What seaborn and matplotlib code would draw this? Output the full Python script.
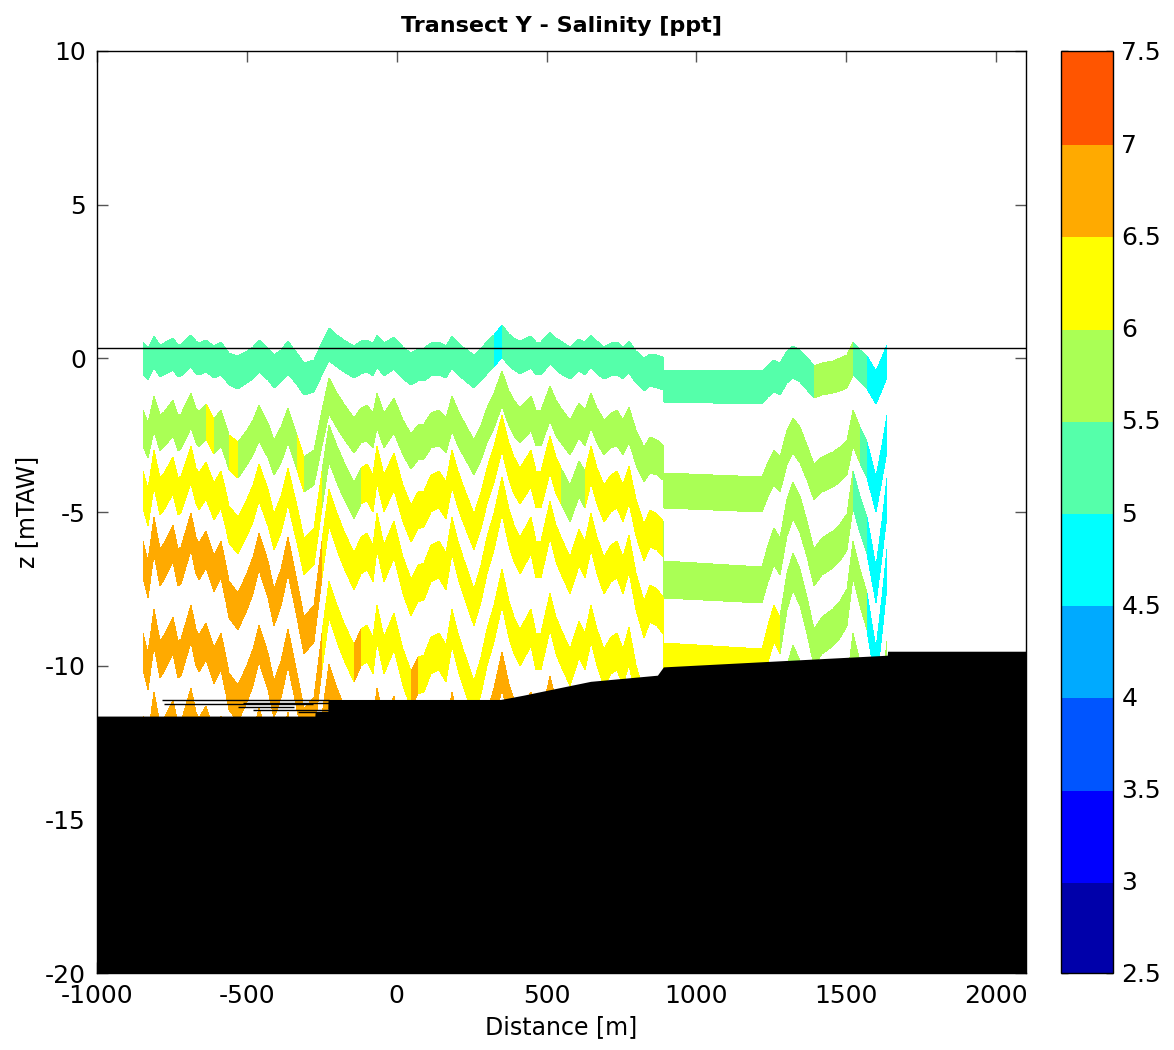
import numpy as np
import matplotlib
matplotlib.use("Agg")
import matplotlib.pyplot as plt
from matplotlib.colors import ListedColormap, BoundaryNorm
import seaborn as sns

# ---------------------------------------------------------------------------
# Data
# ---------------------------------------------------------------------------
# Along-track distance of the profile nodes [m]
dist = np.array([
    -845, -830, -809, -790, -776, -748, -730, -720, -687, -670, -659, -636,
    -609, -587, -570, -559, -531, -498, -480, -459, -431, -409, -385, -364,
    -345, -331, -309, -276, -250, -226, -200, -176, -142, -120, -100, -80,
    -64, -42, -9, 20, 47, 70, 91, 115, 140, 165, 186, 205, 220, 258, 280,
    300, 325, 352, 375, 390, 413, 447, 465, 480, 513, 530, 547, 580, 610,
    630, 647, 670, 691, 715, 736, 755, 774, 800, 824, 845, 869, 890,
    891, 1219,
    1240, 1258, 1280, 1302, 1324, 1346, 1370, 1391, 1420, 1457, 1480, 1502,
    1524, 1545, 1569, 1601, 1620, 1637])

# Vertical excursion of the layer pattern at each node (dimensionless)
heave = np.array([
    0.2, -0.3, 0.8, 0.0, 0.15, 0.6, 0.0, 0.05, 0.9, 0.3, 0.15, 0.45,
    -0.15, 0.2, -0.4, -0.8, -1.1, -0.6, -0.2, 0.4, -0.3, -1.0, -0.5, 0.3,
    -0.3, -0.8, -1.7, -1.4, 0.2, 1.5, 0.9, 0.45, -0.1, 0.3, 0.4, 0.1,
    0.9, 0.1, 0.7, -0.2, -0.75, -0.4, -0.35, 0.1, 0.2, -0.1, 0.8, 0.2, -0.2, -1.0, -0.4,
    0.3, 0.9, 1.8, 1.0, 0.6, 0.3, 0.8, 0.2, 0.2, 1.2, 0.6, 0.3, -0.2, 0.5,
    0.2, 0.9, 0.3, -0.2, 0.1, 0.2, -0.2, 0.35, -0.6, -1.3, -0.9, -1.0, -1.2,
    -2.35, -2.5,
    -1.9, -1.4, -1.7, -0.6, -0.1, -0.5, -1.2, -2.0, -1.7, -1.5, -1.3, -1.0,
    0.2, -0.5, -1.1, -2.5, -1.2, 0.0])

# Sampled layers: mean top level [mTAW], excursion scale [m], thickness [m]
layer_top = [0.45, -1.85, -3.9, -6.2, -9.2, -11.9]
layer_gain = [0.35, 0.8, 1.15, 1.3, 1.3, 1.3]
layer_thick = [1.05, 1.15, 1.2, 1.2, 1.2, 1.2]

# Salinity [ppt] along each layer: value holds from each breakpoint onward
sal_breaks = [
    [-900, 323, 353, 835, 850, 1386, 1524, 1563],
    [-900, -640, -600, -560, -530, -440, -420, -330, -300, 1540, 1569],
    [-900, -240, -130, 547, 636, 890, 1524, 1569],
    [-900, -240, 1290, 1569],
    [-900, -240, -150, -130, 40, 60, 250, 262, 890],
    [-900],
]
sal_values = [
    [5.25, 4.75, 5.25, 5.75, 5.25, 5.75, 5.25, 4.75],
    [5.75, 6.25, 5.75, 6.25, 5.75, 6.25, 5.75, 6.25, 5.75, 5.25, 4.75],
    [6.25, 5.75, 6.25, 5.75, 6.25, 5.75, 5.25, 4.75],
    [6.75, 6.25, 5.75, 4.75],
    [6.75, 6.25, 6.75, 6.25, 6.75, 6.25, 6.75, 6.25, 5.75],
    [6.75],
]

# Bed level along the transect [mTAW]
bed_x = [-1000, -273, -272, -230, -229, 347, 423, 557, 647, 870, 890,
         1637, 1638, 2100]
bed_z = [-11.64, -11.64, -11.5, -11.5, -11.10, -11.10, -10.96, -10.69,
         -10.51, -10.31, -10.04, -9.66, -9.53, -9.53]

# Short bed traces near the left toe
trace_z = [-11.13, -11.20, -11.26, -11.33, -11.45, -11.51]
trace_x0 = [-783, -513, -777, -530, -480, -330]
trace_x1 = [-227, 13, -280, -343, -140, -83]

water_level = 0.35

# Colour classes
sal_levels = np.arange(2.5, 7.51, 0.5)
class_colors = ["#0000AA", "#0000FF", "#0055FF", "#00AAFF", "#00FFFF",
                "#55FFAA", "#AAFF55", "#FFFF00", "#FFAA00", "#FF5500"]

# ---------------------------------------------------------------------------
# Figure
# ---------------------------------------------------------------------------
sns.set_theme(style="white")
plt.rcParams.update({
    "font.family": ["DejaVu Sans"],
    "axes.unicode_minus": False,
    "text.color": "black",
    "axes.labelcolor": "black",
    "xtick.color": "black",
    "ytick.color": "black",
})

fig = plt.figure(figsize=(11.74, 10.5), dpi=100)
ax = fig.add_axes([97 / 1174, 77 / 1050, 929 / 1174, 922 / 1050])

cmap = ListedColormap(class_colors)
norm = BoundaryNorm(sal_levels, cmap.N)

# Layer edges (top, bottom for each layer) on the curvilinear grid
rows = []
for top, gain, thick in zip(layer_top, layer_gain, layer_thick):
    z_top = top + gain * heave
    rows.append(z_top)
    rows.append(z_top - thick)
Z = np.vstack(rows)
X = np.tile(dist, (Z.shape[0], 1))

mid = 0.5 * (dist[:-1] + dist[1:])
C = np.full((Z.shape[0] - 1, dist.size - 1), np.nan)
for k, (brk, val) in enumerate(zip(sal_breaks, sal_values)):
    idx = np.searchsorted(np.asarray(brk), mid, side="right") - 1
    C[2 * k] = np.asarray(val)[idx]
C = np.ma.masked_invalid(C)

mesh = ax.pcolormesh(X, Z, C, cmap=cmap, norm=norm, shading="flat",
                     antialiased=False, zorder=2)

# Bed
ax.fill_between(bed_x, bed_z, -20, color="black", lw=0, zorder=3)
ax.hlines(trace_z, trace_x0, trace_x1, colors="black", lw=1, zorder=3)

# Water level
sns.lineplot(x=[-1000, 2100], y=[water_level, water_level], ax=ax,
             color="black", lw=1, zorder=5)

ax.set_xlim(-1000, 2100)
ax.set_ylim(-20, 10)
ax.set_xticks(np.arange(-1000, 2001, 500))
ax.set_yticks(np.arange(-20, 11, 5))
ax.tick_params(direction="in", length=8, width=1, color="#555555",
               top=True, right=True, bottom=True, left=True,
               labelsize=18, pad=8, labelcolor="black")
for sp in ax.spines.values():
    sp.set_color("black")
    sp.set_linewidth(1)
    sp.set_zorder(6)

ax.set_xlabel("Distance [m]", fontsize=17, labelpad=5, color="black")
ax.set_ylabel("z [mTAW]", fontsize=17, labelpad=4, color="black")
ax.set_title("Transect Y - Salinity [ppt]", fontsize=16, fontweight="bold",
             pad=14, color="black")

# Colour bar
cax = fig.add_axes([1061 / 1174, 77 / 1050, 52 / 1174, 922 / 1050])
cb = fig.colorbar(mesh, cax=cax, ticks=sal_levels, spacing="proportional")
cb.ax.set_yticklabels([f"{v:g}" for v in sal_levels])
cb.ax.tick_params(direction="in", length=5, width=1, color="black",
                  left=True, right=True, labelsize=18, pad=6,
                  labelcolor="black")
cb.outline.set_edgecolor("black")
cb.outline.set_linewidth(1)
cb.solids.set_edgecolor("face")

fig.savefig("out.png", dpi=100)
